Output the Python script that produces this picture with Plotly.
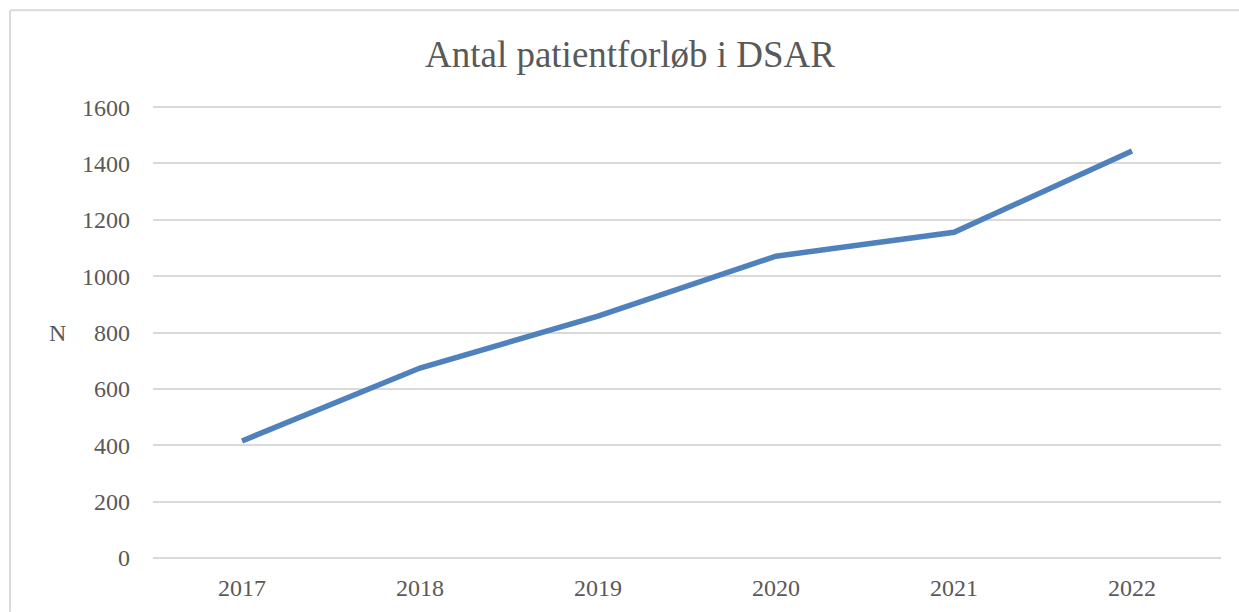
import plotly.graph_objects as go

years = ["2017", "2018", "2019", "2020", "2021", "2022"]
patientforloeb = [415, 674, 858, 1071, 1156, 1444]
y_ticks = [0, 200, 400, 600, 800, 1000, 1200, 1400, 1600]

FONT = "Liberation Serif, DejaVu Serif, serif"
GREY = "#595959"

fig = go.Figure()
fig.add_trace(go.Scatter(
    x=years, y=patientforloeb, mode="lines",
    line=dict(color="#4F81BD", width=5.5),
    hoverinfo="x+y", showlegend=False,
))

W, H = 1239, 612
PAD = 4  # data units beyond edges so edge gridlines show
L, R = 153, 18
scale = (558 - 107) / 1600.0
T = 107 - PAD * scale
B = H - (558 + PAD * scale)
pw, ph = W - L - R, H - T - B

fig.update_layout(
    width=W, height=H,
    margin=dict(l=L, r=R, t=T, b=B, pad=0),
    paper_bgcolor="white", plot_bgcolor="white",
    font=dict(family=FONT, color=GREY, size=24),
    title=dict(text="Antal patientforløb i DSAR", x=630 / W, xanchor="center",
               y=1 - 54 / H, yanchor="middle",
               font=dict(family=FONT, size=37, color=GREY)),
    xaxis=dict(type="category", range=[-0.5, 5.5], showgrid=False,
               showline=False, ticks="", tickfont=dict(size=24, color=GREY),
               ticklabelstandoff=12, zeroline=False),
    yaxis=dict(range=[-PAD, 1600 + PAD], tickvals=y_ticks, showgrid=True,
               gridcolor="#D9D9D9", gridwidth=1.5, zeroline=False,
               showline=False, ticks="", ticklabelstandoff=22,
               tickfont=dict(size=24, color=GREY)),
)

# outer chart border: only top and left edges are visible in the frame
x_left = (10 - L) / pw
y_top = 1 + (T - 10) / ph
fig.add_shape(type="line", xref="paper", yref="paper",
              x0=x_left, x1=(W - L) / pw, y0=y_top, y1=y_top,
              line=dict(color="#D9D9D9", width=2), layer="below")
fig.add_shape(type="line", xref="paper", yref="paper",
              x0=x_left, x1=x_left, y0=-B / ph, y1=y_top,
              line=dict(color="#D9D9D9", width=2), layer="below")

fig.add_annotation(text="N", xref="paper", yref="paper",
                   x=(57 - L) / pw, y=(H - B - 333) / ph,
                   showarrow=False, xanchor="center", yanchor="middle",
                   font=dict(family=FONT, size=24, color=GREY))

fig.write_html(
    "out.html", config={"displayModeBar": False},
    post_script=("document.body.style.margin='0';"
                 "document.body.style.overflow='hidden';"
                 "document.documentElement.style.overflow='hidden';"),
)
